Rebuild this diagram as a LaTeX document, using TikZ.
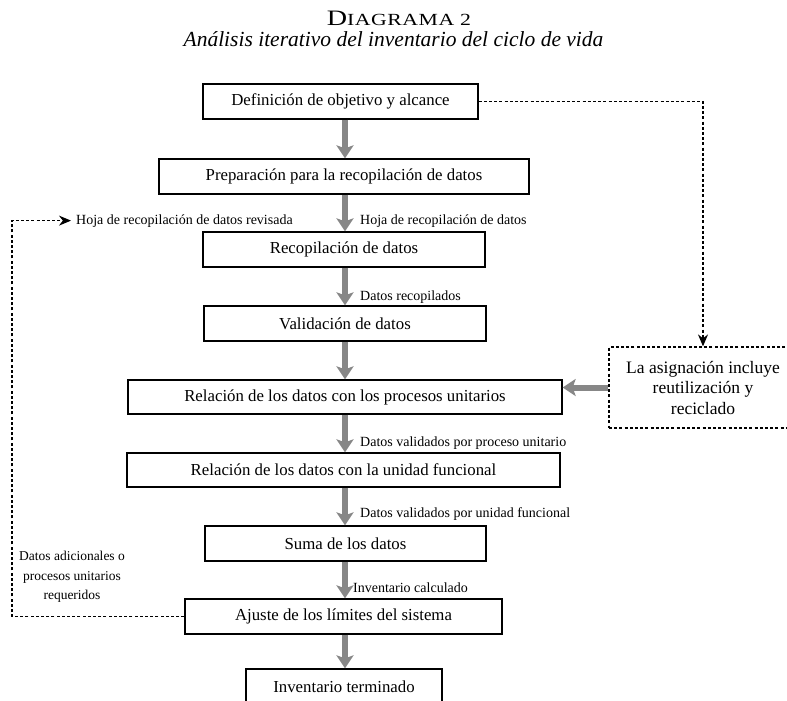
\documentclass[tikz,border=0pt]{standalone}
\usepackage{fontspec}
\setmainfont{Liberation Serif}
\newfontfamily\headfont[FakeStretch=1.28, LetterSpace=3]{Liberation Serif}
\usetikzlibrary{arrows.meta}
\definecolor{flowgray}{RGB}{135,135,135}
\tikzset{
  stepbox/.style={draw=black, line width=1.3pt, minimum height=35pt, inner sep=0pt,
    font=\fontsize{16.8}{19}\selectfont},
  flow/.style={draw=flowgray, line width=6pt, -{Stealth[width=17pt,length=13pt,inset=3pt]}},
  fb/.style={draw=black, line width=1.2pt, dash pattern=on 3pt off 2.2pt},
  fbtip/.style={-{Stealth[width=10pt,length=12pt]}},
  lbl/.style={font=\fontsize{14}{15}\selectfont, inner sep=0pt, anchor=base west},
}
\begin{document}
\begin{tikzpicture}[x=1pt,y=-1pt]
\useasboundingbox (0,0) rectangle (787,701);

% heading
\node[anchor=base] (title) at (399,26)
  {\headfont\fontsize{22}{23}\selectfont D\fontsize{17}{18}\selectfont IAGRAMA 2};
\node[anchor=base] (subtitle) at (393.5,47)
  {\fontsize{21.5}{24}\selectfont\itshape Análisis iterativo del inventario del ciclo de vida};

% main sequence of steps
\node[stepbox, minimum width=275pt] (b1) at (340.5,101.5) {Definición de objetivo y alcance};
\node[stepbox, minimum width=370pt] (b2) at (344,176.5) {Preparación para la recopilación de datos};
\node[stepbox, minimum width=282pt] (b3) at (344,249.5) {Recopilación de datos};
\node[stepbox, minimum width=282pt] (b4) at (345,323.5) {Validación de datos};
\node[stepbox, minimum width=434pt, minimum height=34pt] (b5) at (345,397) {Relación de los datos con los procesos unitarios};
\node[stepbox, minimum width=433pt, minimum height=34pt] (b6) at (343.5,470) {Relación de los datos con la unidad funcional};
\node[stepbox, minimum width=281pt] (b7) at (345.5,543.5) {Suma de los datos};
\node[stepbox, minimum width=317pt] (b8) at (343.5,616.5) {Ajuste de los límites del sistema};
\node[stepbox, minimum width=196pt] (b9) at (344,686.5) {Inventario terminado};

% allocation note
\node[fb, minimum width=188pt, minimum height=81pt, inner sep=0pt, align=center,
  font=\fontsize{17.5}{20.5}\selectfont] (alloc) at (703,387.5)
  {La asignación incluye\\reutilización y\\reciclado};

% vertical axis of the flow arrows
\coordinate (ax) at (345,0);
\coordinate (lx) at (12,0);

\draw[flow] (b1.south -| ax) -- (b2.north -| ax);
\draw[flow] (b2.south -| ax) -- (b3.north -| ax);
\draw[flow] (b3.south -| ax) -- (b4.north -| ax);
\draw[flow] (b4.south -| ax) -- (b5.north -| ax);
\draw[flow] (b5.south -| ax) -- (b6.north -| ax);
\draw[flow] (b6.south -| ax) -- (b7.north -| ax);
\draw[flow] (b7.south -| ax) -- (b8.north -| ax);
\draw[flow] (b8.south -| ax) -- (b9.north -| ax);
\draw[flow] (alloc.west) -- (alloc.west -| b5.east);

% flow labels
\node[lbl] (l1) at (360,224) {Hoja de recopilación de datos};
\node[lbl] (l2) at (360,300) {Datos recopilados};
\node[lbl] (l3) at (360,446.5) {Datos validados por proceso unitario};
\node[lbl] (l4) at (360,517.5) {Datos validados por unidad funcional};
\node[lbl] (l5) at (353,592) {Inventario calculado};

% feedback loops
\node[lbl, inner xsep=5pt] (rev) at (71,224) {Hoja de recopilación de datos revisada};
\node[align=center, inner sep=0pt, font=\fontsize{13.5}{19.5}\selectfont] (extra) at (72,577)
  {Datos adicionales o\\procesos unitarios\\requeridos};

\draw[fb, fbtip] (b1.east) -| (alloc.north);
\draw[fb, fbtip] (b8.west) -- (b8.west -| lx) |- (rev.west);
\end{tikzpicture}
\end{document}
